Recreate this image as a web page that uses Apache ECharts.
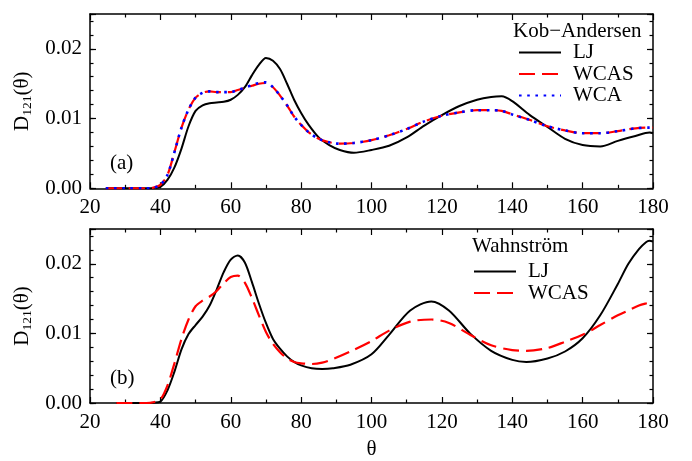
<!DOCTYPE html>
<html>
<head>
<meta charset="utf-8">
<script src="https://cdn.jsdelivr.net/npm/echarts@6/dist/echarts.min.js"></script>
<style>
  html, body { margin: 0; padding: 0; background: #fff; }
  #chart { width: 692px; height: 461px; }
</style>
</head>
<body>
<div id="chart"></div>
<script>
// Bond-angle distributions D_121(θ) for two glass-forming mixtures.

// (a) Kob–Andersen
const thetaKA = [24.5, 30, 36, 38, 40, 42, 44, 46, 48, 50, 52, 54, 56, 58, 60, 62, 64, 66, 68, 70,
  72, 74, 76, 78, 80, 82, 85, 88, 91, 95, 100, 105, 110, 115, 120, 125, 130, 134, 137, 140,
  145, 150, 155, 160, 165, 170, 175, 179, 180];
const kaLJ = [0, 0, 0, 0.00003, 0.0002, 0.0012, 0.003, 0.0057, 0.0089, 0.0111, 0.0119, 0.0122, 0.0123, 0.0124, 0.0127, 0.0134, 0.0145, 0.0162, 0.0177, 0.0187,
  0.0183, 0.0171, 0.015, 0.0127, 0.0108, 0.0092, 0.0073, 0.0062, 0.0055, 0.0051, 0.0055, 0.0061, 0.0073, 0.009, 0.0105, 0.0118, 0.0127, 0.0131, 0.0132, 0.0125,
  0.0105, 0.0088, 0.0071, 0.0062, 0.006, 0.0068, 0.0075, 0.008, 0.0079];
const kaWCAS = [0, 0, 0, 0.0001, 0.0005, 0.0019, 0.0052, 0.0087, 0.0113, 0.013, 0.0137, 0.0139, 0.0138, 0.0138, 0.0138, 0.0141, 0.0144, 0.0147, 0.015, 0.0151,
  0.0145, 0.0133, 0.0119, 0.0103, 0.0091, 0.0081, 0.0071, 0.0066, 0.0064, 0.0065, 0.0069, 0.0076, 0.0085, 0.0096, 0.0104, 0.0109, 0.0112, 0.0112, 0.0111, 0.0106,
  0.0098, 0.0089, 0.0083, 0.0079, 0.0079, 0.0082, 0.0086, 0.0087, 0.0087];
const kaWCA = [0, 0, 0, 0.0001, 0.0005, 0.0019, 0.0052, 0.0087, 0.0113, 0.013, 0.0137, 0.0139, 0.0138, 0.0138, 0.0138, 0.0141, 0.0144, 0.0148, 0.0151, 0.0152,
  0.0145, 0.0133, 0.0119, 0.0103, 0.0091, 0.0081, 0.0071, 0.0066, 0.0064, 0.0065, 0.0069, 0.0076, 0.0085, 0.0096, 0.0104, 0.0109, 0.0112, 0.0112, 0.0111, 0.0106,
  0.0098, 0.0089, 0.0083, 0.0079, 0.0079, 0.0082, 0.0086, 0.0087, 0.0087];

// (b) Wahnström
const thetaW = [27.5, 32, 36, 38, 40, 42, 44, 46, 48, 50, 52, 54, 56, 58, 60, 62, 64, 66, 68, 70,
  72, 74, 76, 78, 80, 83, 86, 89, 94, 100, 105, 111, 117, 122, 128, 134, 140, 144, 150, 155,
  160, 165, 170, 173, 176, 178, 179, 180];
const wLJ = [0, 0, 0, 0.00005, 0.0002, 0.0018, 0.0045, 0.0077, 0.0099, 0.0112, 0.0124, 0.014, 0.0163, 0.0188, 0.0206, 0.0212, 0.0202, 0.0174, 0.0143, 0.0115,
  0.0092, 0.0078, 0.0067, 0.0059, 0.0054, 0.005, 0.0049, 0.005, 0.0055, 0.007, 0.0098, 0.0133, 0.0146, 0.0133, 0.01, 0.0075, 0.0062, 0.0059, 0.0064, 0.0074,
  0.0093, 0.0126, 0.0171, 0.02, 0.0221, 0.0231, 0.0233, 0.0232];
const wWCAS = [0, 0, 0, 0.0001, 0.0005, 0.0025, 0.0057, 0.0092, 0.012, 0.0139, 0.0147, 0.0153, 0.0161, 0.0172, 0.0181, 0.0183, 0.0173, 0.0151, 0.0126, 0.0102,
  0.0085, 0.0073, 0.0064, 0.0059, 0.0057, 0.0056, 0.0058, 0.0063, 0.0074, 0.0089, 0.0104, 0.0117, 0.012, 0.0115, 0.0098, 0.0083, 0.0076, 0.0075, 0.0079, 0.0088,
  0.0098, 0.0112, 0.0126, 0.0133, 0.014, 0.0143, 0.0144, 0.0145];

const xTicks = { min: 20, max: 180, step: 20 };
const yTicks = { min: 0, max: 0.025, step: 0.01, minorStep: 0.002 };

const FONT = 'Liberation Serif';
const BLACK = '#000';

const pair = (xs, ys) => xs.map((x, i) => [x, ys[i]]);

const grids = [
  { left: 90, right: 39, top: 14, height: 174.3 },
  { left: 90, right: 39, top: 229, height: 174.3 }
];

function xAxes(g, withName) {
  const base = {
    type: 'value', gridIndex: g, min: xTicks.min, max: xTicks.max, interval: xTicks.step,
    axisLine: { show: true, onZero: false, lineStyle: { color: BLACK, width: 1.5 } },
    axisTick: { show: true, inside: true, length: 6, lineStyle: { color: BLACK, width: 1.2 } },
    minorTick: { show: true, splitNumber: 2, length: 3.5, lineStyle: { color: BLACK, width: 1.2 } },
    splitLine: { show: false }
  };
  const bottom = Object.assign({}, base, {
    position: 'bottom',
    axisLabel: { color: BLACK, fontFamily: FONT, fontSize: 21, margin: 9 }
  });
  if (withName) {
    Object.assign(bottom, {
      name: 'θ', nameLocation: 'middle', nameGap: 36,
      nameTextStyle: { color: BLACK, fontFamily: FONT, fontSize: 21 }
    });
  }
  const top = Object.assign({}, base, { position: 'top', axisLabel: { show: false } });
  return [bottom, top];
}

function yAxes(g) {
  const major = (pos, labels) => ({
    type: 'value', gridIndex: g, position: pos, min: yTicks.min, max: yTicks.max, interval: yTicks.step,
    axisLine: { show: true, onZero: false, lineStyle: { color: BLACK, width: 1.5 } },
    axisTick: { show: true, inside: true, length: 6, lineStyle: { color: BLACK, width: 1.2 } },
    splitLine: { show: false },
    axisLabel: labels ? {
      color: BLACK, fontFamily: FONT, fontSize: 21, margin: 8,
      formatter: v => {
        const k = Math.round(v / yTicks.step);
        return Math.abs(v - k * yTicks.step) < 1e-9 ? v.toFixed(2) : '';
      }
    } : { show: false },
    name: labels ? '{d|D}{s|121}{d|(θ)}' : '',
    nameLocation: 'middle', nameRotate: 90, nameGap: 56,
    nameTextStyle: {
      rich: {
        d: { fontFamily: FONT, fontSize: 21, lineHeight: 21, color: BLACK },
        s: { fontFamily: FONT, fontSize: 13.5, lineHeight: 14, padding: [9, 0, 0, 0], color: BLACK }
      }
    }
  });
  const minor = pos => ({
    type: 'value', gridIndex: g, position: pos, min: yTicks.min, max: yTicks.max, interval: yTicks.minorStep,
    axisLine: { show: false },
    axisTick: { show: true, inside: true, length: 3.5, lineStyle: { color: BLACK, width: 1.2 } },
    axisLabel: { show: false },
    splitLine: { show: false }
  });
  return [major('left', true), minor('left'), major('right', false), minor('right')];
}

const solid = { color: BLACK, width: 2, type: 'solid' };
const dashed = { color: '#ff0000', width: 2.2, type: [16, 7] };
const dotted = { color: '#0000ff', width: 2.6, type: [2.6, 5.6] };

function line(name, xs, ys, style, xi, yi) {
  return {
    name, type: 'line', xAxisIndex: xi, yAxisIndex: yi,
    data: pair(xs, ys), showSymbol: false, symbol: 'none',
    smooth: 0.3,
    lineStyle: style, itemStyle: { color: style.color },
    emphasis: { disabled: true }, animation: false
  };
}

const legendBase = {
  orient: 'vertical', padding: 0, itemWidth: 42, itemHeight: 20, itemGap: 0.5,
  selectedMode: false,
  itemStyle: { opacity: 0 },
  textStyle: { color: BLACK, fontFamily: FONT, fontSize: 21, lineHeight: 20, padding: [0, 0, 0, 7] }
};

const option = {
  backgroundColor: '#fff',
  animation: false,
  grid: grids,
  xAxis: [...xAxes(0, false), ...xAxes(1, true)],
  yAxis: [...yAxes(0), ...yAxes(1)],
  legend: [
    Object.assign({}, legendBase, { data: ['LJ', 'WCAS', 'WCA'], left: 518, top: 42 }),
    Object.assign({}, legendBase, { data: ['LJ', 'WCAS'], left: 473, top: 261 })
  ],
  series: [
    line('LJ', thetaKA, kaLJ, solid, 0, 0),
    line('WCAS', thetaKA, kaWCAS, dashed, 0, 0),
    line('WCA', thetaKA, kaWCA, dotted, 0, 0),
    line('LJ', thetaW, wLJ, solid, 2, 4),
    line('WCAS', thetaW, wWCAS, dashed, 2, 4)
  ],
  graphic: [
    { type: 'text', left: 513, top: 21, style: { text: 'Kob−Andersen', font: '21px "Liberation Serif"', fill: BLACK } },
    { type: 'text', left: 472, top: 236, style: { text: 'Wahnström', font: '21px "Liberation Serif"', fill: BLACK } },
    { type: 'text', left: 110, top: 153, style: { text: '(a)', font: '21px "Liberation Serif"', fill: BLACK } },
    { type: 'text', left: 110, top: 368, style: { text: '(b)', font: '21px "Liberation Serif"', fill: BLACK } }
  ]
};

const chart = echarts.init(document.getElementById('chart'), null, { renderer: 'canvas' });
chart.setOption(option);
</script>
</body>
</html>
